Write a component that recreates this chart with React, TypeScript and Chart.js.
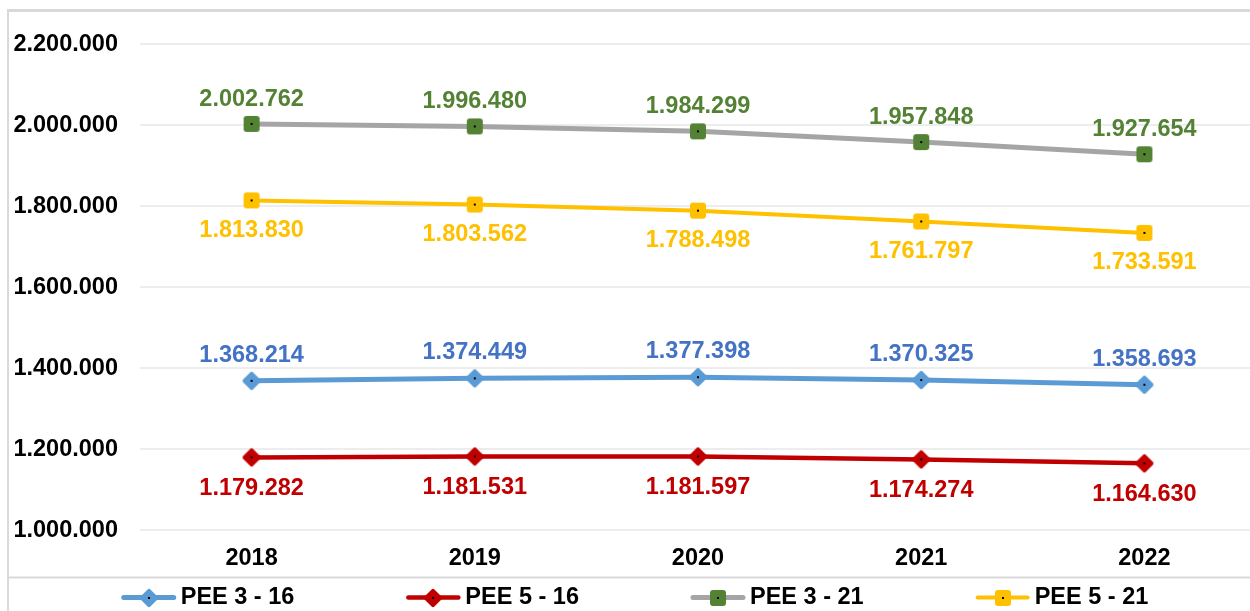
import React, { useEffect, useRef } from "react";
import { Chart, registerables } from "chart.js";

Chart.register(...registerables);

// ---------------- DATA ----------------
const years = ["2018", "2019", "2020", "2021", "2022"];
const pee3_16 = [1368214, 1374449, 1377398, 1370325, 1358693];
const pee5_16 = [1179282, 1181531, 1181597, 1174274, 1164630];
const pee3_21 = [2002762, 1996480, 1984299, 1957848, 1927654];
const pee5_21 = [1813830, 1803562, 1788498, 1761797, 1733591];
const seriesNames = ["PEE 3 - 16", "PEE 5 - 16", "PEE 3 - 21", "PEE 5 - 21"];
const yMin = 1000000;
const yMax = 2200000;
const yStep = 200000;

// ---------------- STYLE ----------------
const FONT = "'Liberation Sans', Arial, sans-serif";
const FSIZE = 23.5;
const lineColors = ["#5B9BD5", "#C00000", "#A5A5A5", "#FFC000"];
const markerColors = ["#5B9BD5", "#C00000", "#548235", "#FFC000"];
const labelColors = ["#4472C4", "#C00000", "#548235", "#FFC000"];
const lineWidths = [5, 4.5, 5, 4];
const markerShapes = ["diamond", "diamond", "square", "square"];
const labelOffsets = [-25.5, 31.5, -24.5, 30];

function fmt(v: number): string {
  return String(Math.round(v)).replace(/\B(?=(\d{3})+(?!\d))/g, ".");
}

function roundRectPath(ctx: CanvasRenderingContext2D, x: number, y: number, w: number, h: number, r: number) {
  ctx.beginPath();
  ctx.moveTo(x + r, y);
  ctx.lineTo(x + w - r, y);
  ctx.quadraticCurveTo(x + w, y, x + w, y + r);
  ctx.lineTo(x + w, y + h - r);
  ctx.quadraticCurveTo(x + w, y + h, x + w - r, y + h);
  ctx.lineTo(x + r, y + h);
  ctx.quadraticCurveTo(x, y + h, x, y + h - r);
  ctx.lineTo(x, y + r);
  ctx.quadraticCurveTo(x, y, x + r, y);
  ctx.closePath();
}

function makeMarker(shape: string, fill: string): HTMLCanvasElement {
  const c = document.createElement("canvas");
  const S = 22;
  c.width = S;
  c.height = S;
  const ctx = c.getContext("2d")!;
  ctx.fillStyle = fill;
  ctx.save();
  ctx.translate(S / 2, S / 2);
  if (shape === "diamond") {
    ctx.rotate(Math.PI / 4);
    roundRectPath(ctx, -7, -7, 14, 14, 2);
  } else {
    roundRectPath(ctx, -8, -8, 16, 16, 3);
  }
  ctx.fill();
  ctx.restore();
  ctx.fillStyle = "#000";
  ctx.fillRect(S / 2 - 1, S / 2 - 1, 2, 2);
  return c;
}

export default function App() {
  const ref = useRef<HTMLCanvasElement | null>(null);

  useEffect(() => {
    if (!ref.current) return;
    const markers = markerShapes.map((s, i) => makeMarker(s, markerColors[i]));
    const allSeries = [pee3_16, pee5_16, pee3_21, pee5_21];

    const bgPlugin = {
      id: "bgFrame",
      beforeDraw(chart: any) {
        const ctx = chart.ctx as CanvasRenderingContext2D;
        const W = chart.width;
        const H = chart.height;
        ctx.save();
        ctx.fillStyle = "#fff";
        ctx.fillRect(0, 0, W, H);
        ctx.fillStyle = "#d9d9d9";
        ctx.fillRect(7, 9, W, 3);
        ctx.fillRect(7, 9, 2, H);
        ctx.fillRect(9, 576.5, W, 2);
        ctx.restore();
      },
    };

    const labelPlugin = {
      id: "valueLabels",
      afterDatasetsDraw(chart: any) {
        const ctx = chart.ctx as CanvasRenderingContext2D;
        ctx.save();
        ctx.font = `bold ${FSIZE}px ${FONT}`;
        ctx.textAlign = "center";
        ctx.textBaseline = "middle";
        chart.data.datasets.forEach((ds: any, i: number) => {
          const meta = chart.getDatasetMeta(i);
          ctx.fillStyle = labelColors[i];
          meta.data.forEach((pt: any, j: number) => {
            ctx.fillText(fmt(ds.data[j]), pt.x, pt.y + labelOffsets[i]);
          });
        });
        ctx.restore();
      },
    };

    const legendPlugin = {
      id: "customLegend",
      afterDraw(chart: any) {
        const ctx = chart.ctx as CanvasRenderingContext2D;
        ctx.save();
        ctx.font = `bold ${FSIZE}px ${FONT}`;
        ctx.textBaseline = "middle";
        ctx.textAlign = "left";
        const lineLen = 54;
        const gapTxt = 5;
        const gapItems = 112;
        const widths = seriesNames.map((n) => lineLen + gapTxt + ctx.measureText(n).width);
        const total = widths.reduce((a, b) => a + b, 0) + gapItems * (seriesNames.length - 1);
        let x = 635 - total / 2;
        const y = 597.5;
        seriesNames.forEach((name, i) => {
          ctx.strokeStyle = lineColors[i];
          ctx.lineWidth = lineWidths[i];
          ctx.lineCap = "round";
          ctx.beginPath();
          ctx.moveTo(x + 2, y);
          ctx.lineTo(x + lineLen - 2, y);
          ctx.stroke();
          const m = markers[i];
          ctx.drawImage(m, Math.round(x + lineLen / 2 - m.width / 2), Math.round(y - m.height / 2));
          ctx.fillStyle = "#000";
          ctx.fillText(name, x + lineLen + gapTxt, y);
          x += widths[i] + gapItems;
        });
        ctx.restore();
      },
    };

    const chart = new Chart(ref.current, {
      type: "line",
      data: {
        labels: years,
        datasets: allSeries.map((d, i) => ({
          label: seriesNames[i],
          data: d,
          borderColor: lineColors[i],
          backgroundColor: markerColors[i],
          borderWidth: lineWidths[i],
          pointStyle: markers[i] as any,
          pointRadius: 9,
          tension: 0,
          fill: false,
          order: 4 - i,
        })),
      },
      options: {
        animation: false,
        responsive: false,
        devicePixelRatio: 1,
        layout: { padding: { top: 44, right: 6, bottom: 0, left: 0 } },
        plugins: {
          legend: { display: false },
          tooltip: { enabled: false },
        },
        scales: {
          x: {
            type: "category",
            offset: true,
            grid: { display: false, drawTicks: false },
            border: { display: false },
            ticks: {
              color: "#000",
              padding: 14,
              maxRotation: 0,
              font: { family: FONT, size: FSIZE, weight: "bold" },
            },
            afterFit: (s: any) => {
              s.height = 81;
            },
          },
          y: {
            min: yMin,
            max: yMax,
            grid: { color: "#ededed", lineWidth: 2, drawTicks: false },
            border: { display: false },
            ticks: {
              stepSize: yStep,
              color: "#000",
              padding: 22,
              labelOffset: 1,
              font: { family: FONT, size: FSIZE, weight: "bold" },
              callback: (v: any) => fmt(Number(v)),
            },
            afterFit: (s: any) => {
              s.width = 140;
            },
          },
        },
      },
      plugins: [bgPlugin, labelPlugin, legendPlugin],
    } as any);

    return () => chart.destroy();
  }, []);

  return (
    <div
      style={{
        position: "fixed",
        left: 0,
        top: 0,
        width: 1250,
        height: 611,
        overflow: "hidden",
        background: "#fff",
      }}
    >
      <canvas ref={ref} width={1270} height={611} style={{ display: "block", width: 1270, height: 611 }} />
    </div>
  );
}
